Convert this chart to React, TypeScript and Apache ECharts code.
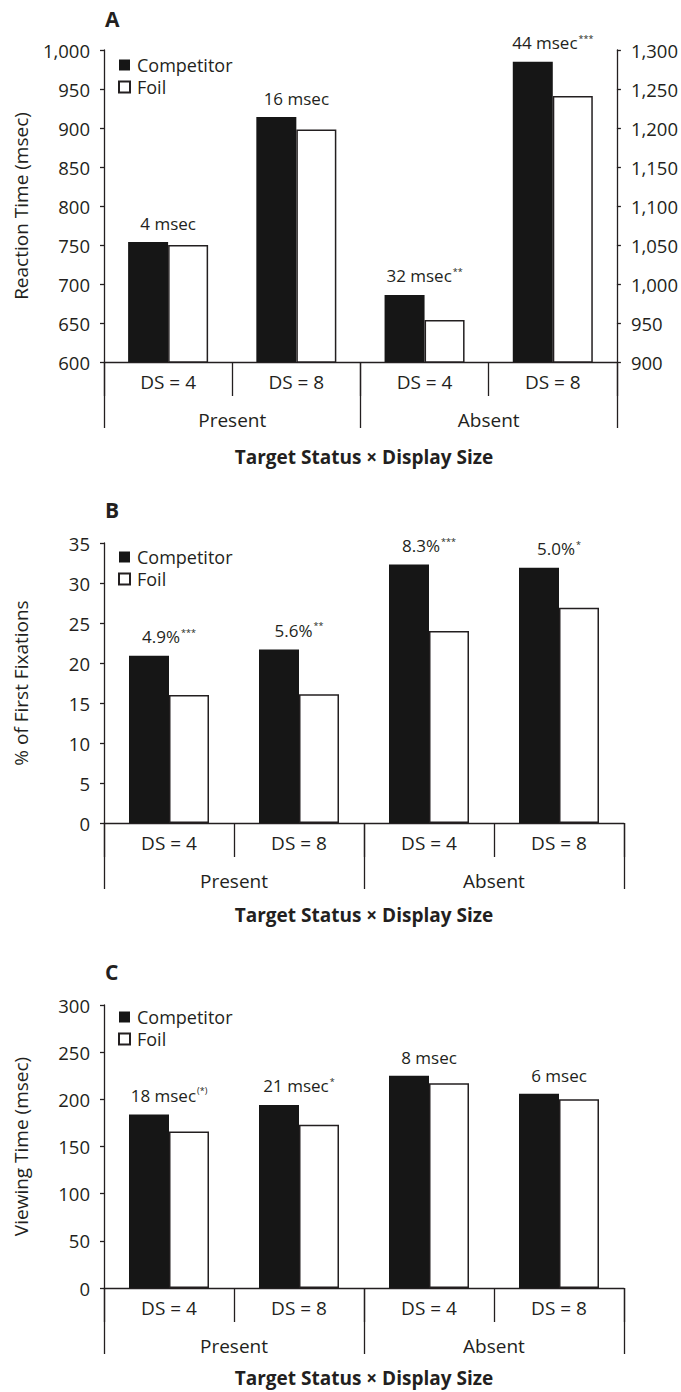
import React, { useEffect, useRef } from 'react';
import * as echarts from 'echarts';

// ---------- data ----------
const categories = ['DS = 4', 'DS = 8', 'DS = 4', 'DS = 8'];
const groups = ['Present', 'Absent'];
const legendNames = ['Competitor', 'Foil'];
const xTitle = 'Target Status \u00d7 Display Size';

// Panel A: Reaction time (Present on left axis, Absent on right axis)
const rtCompetitor = [754, 914, 986, 1285];
const rtFoil = [750, 898, 954, 1241];
const rtDiffs = ['4 msec', '16 msec', '32 msec', '44 msec'];
const rtStars = ['', '', '**', '***'];

// Panel B: % of first fixations
const ffCompetitor = [20.9, 21.7, 32.3, 31.9];
const ffFoil = [16.0, 16.1, 24.0, 26.9];
const ffDiffs = ['4.9%', '5.6%', '8.3%', '5.0%'];
const ffStars = ['***', '**', '***', '*'];

// Panel C: viewing time
const vtCompetitor = [184, 194, 225, 206];
const vtFoil = [166, 173, 217, 200];
const vtDiffs = ['18 msec', '21 msec', '8 msec', '6 msec'];
const vtStars = ['(*)', '*', '', ''];

// ---------- style ----------
const INK = '#231f20';
const BAR = '#161616';
const FONT = "'Open Sans', 'Noto Sans', sans-serif";
const FS = 17;

const pick = (arr: number[], idx: number[]) => arr.map((v, i) => (idx.includes(i) ? v : '-'));

function labelFor(diffs: string[], stars: string[]) {
  return {
    show: true,
    position: 'top',
    distance: 10,
    offset: [20, 0],
    formatter: (p: any) => {
      const d = diffs[p.dataIndex];
      const s = stars[p.dataIndex];
      return s ? `{v|${d}}{s|${s}}` : `{v|${d}}`;
    },
    rich: {
      v: { fontSize: FS, color: INK, fontFamily: FONT },
      s: { fontSize: 9, color: INK, fontFamily: FONT, verticalAlign: 'top', padding: [0, 0, 9, 1] },
    },
  };
}

const compStyle = { color: BAR, borderColor: BAR, borderWidth: 0 };
const foilStyle = { color: '#ffffff', borderColor: INK, borderWidth: 1.5 };

function dsAxis(gridIndex: number, show = true) {
  return {
    type: 'category',
    gridIndex,
    position: 'bottom',
    data: categories,
    show,
    axisLine: { show: true, lineStyle: { color: INK, width: 1.3 } },
    axisTick: { show: true, interval: 0, length: 34, lineStyle: { color: INK, width: 1.3 } },
    axisLabel: { interval: 0, margin: 10, fontSize: 19, color: INK, fontFamily: FONT },
  };
}
function groupAxis(gridIndex: number) {
  return {
    type: 'category',
    gridIndex,
    position: 'bottom',
    data: groups,
    axisLine: { show: false },
    axisTick: { show: true, interval: 0, length: 66, lineStyle: { color: INK, width: 1.3 } },
    axisLabel: { interval: 0, margin: 48, fontSize: 19, color: INK, fontFamily: FONT },
  };
}
function valAxis(gridIndex: number, min: number, max: number, interval: number, name: string, position = 'left', comma = false) {
  return {
    type: 'value',
    gridIndex,
    position,
    min,
    max,
    interval,
    name,
    nameLocation: 'middle',
    nameGap: 74,
    nameTextStyle: { fontSize: 19, color: INK, fontFamily: FONT },
    splitLine: { show: false },
    axisLine: { show: true, lineStyle: { color: INK, width: 1.3 } },
    axisTick: { show: true, length: 4, lineStyle: { color: INK, width: 1.3 } },
    axisLabel: {
      fontSize: 18.5,
      color: INK,
      fontFamily: FONT,
      margin: 14,
      formatter: (v: number) => (comma ? v.toLocaleString('en-US') : String(v)),
    },
  };
}

function legendAt(top: number) {
  return {
    orient: 'vertical',
    left: 118,
    top,
    padding: 0,
    icon: 'rect',
    itemWidth: 11,
    itemHeight: 11,
    itemGap: 4,
    data: legendNames,
    selectedMode: false,
    textStyle: { fontSize: 18, color: INK, fontFamily: FONT, lineHeight: 18, padding: [0, 0, 0, 2] },
  };
}

function barSeries(name: string, xi: number, yi: number, data: any[], style: any, label?: any) {
  return {
    type: 'bar',
    name,
    xAxisIndex: xi,
    yAxisIndex: yi,
    data,
    barWidth: 40,
    barGap: '0%',
    itemStyle: style,
    label: label || { show: false },
    emphasis: { disabled: true },
  };
}

function letter(text: string, top: number) {
  return { type: 'text', left: 105, top, style: { text, fontSize: 21, fontWeight: 'bold', fill: INK, fontFamily: FONT } };
}
function xTitleAt(y: number) {
  return {
    type: 'text',
    x: 364,
    y,
    style: {
      text: xTitle,
      fontSize: 19,
      lineHeight: 20,
      fontWeight: 'bold',
      fill: INK,
      fontFamily: FONT,
      align: 'center',
      verticalAlign: 'middle',
    },
  };
}

export default function App() {
  const ref = useRef<HTMLDivElement>(null);
  useEffect(() => {
    document.body.style.margin = '0';
    const chart = echarts.init(ref.current!, undefined, { renderer: 'svg' });
    const present = [0, 1];
    const absent = [2, 3];
    chart.setOption({
      animation: false,
      backgroundColor: '#ffffff',
      textStyle: { fontFamily: FONT },
      grid: [
        { left: 104, top: 50, width: 520, height: 312 },
        { left: 104, top: 543, width: 520, height: 280 },
        { left: 104, top: 1005, width: 520, height: 283 },
      ],
      xAxis: [
        dsAxis(0), // 0
        { ...dsAxis(0, false) }, // 1 hidden, for absent bars
        groupAxis(0), // 2
        dsAxis(1), // 3
        groupAxis(1), // 4
        dsAxis(2), // 5
        groupAxis(2), // 6
      ],
      yAxis: [
        valAxis(0, 600, 1000, 50, 'Reaction Time (msec)', 'left', true),
        { ...valAxis(0, 900, 1300, 50, '', 'right', true), name: '' },
        valAxis(1, 0, 35, 5, '% of First Fixations'),
        valAxis(2, 0, 300, 50, 'Viewing Time (msec)'),
      ],
      legend: [legendAt(56), legendAt(548), legendAt(1008)],
      series: [
        barSeries('Competitor', 0, 0, pick(rtCompetitor, present), compStyle, labelFor(rtDiffs, rtStars)),
        barSeries('Foil', 0, 0, pick(rtFoil, present), foilStyle),
        barSeries('Competitor', 1, 1, pick(rtCompetitor, absent), compStyle, labelFor(rtDiffs, rtStars)),
        barSeries('Foil', 1, 1, pick(rtFoil, absent), foilStyle),
        barSeries('Competitor', 3, 2, ffCompetitor, compStyle, labelFor(ffDiffs, ffStars)),
        barSeries('Foil', 3, 2, ffFoil, foilStyle),
        barSeries('Competitor', 5, 3, vtCompetitor, compStyle, labelFor(vtDiffs, vtStars)),
        barSeries('Foil', 5, 3, vtFoil, foilStyle),
      ],
      graphic: [
        letter('A', 8),
        letter('B', 499),
        letter('C', 961),
        xTitleAt(457),
        xTitleAt(915),
        xTitleAt(1378),
      ],
    });
    return () => chart.dispose();
  }, []);
  return <div ref={ref} style={{ width: 681, height: 1392 }} />;
}
